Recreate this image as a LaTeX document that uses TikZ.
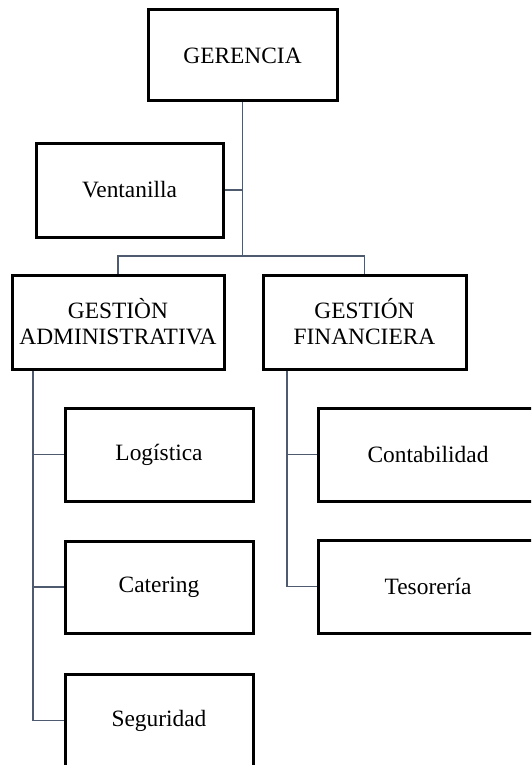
\documentclass[tikz,border=0pt]{standalone}
\usepackage{fontspec}
\setmainfont{Liberation Serif}
\definecolor{conn}{RGB}{78,90,110}
\begin{document}
\begin{tikzpicture}[x=1pt,y=1pt,
  box/.style={draw=black, line width=3pt, fill=white, rectangle, inner sep=0pt,
    align=center, font=\fontsize{23.4}{26}\selectfont},
  link/.style={draw=conn, line width=1.6pt}]
\useasboundingbox (0,0) rectangle (531,-765);
\clip (0,0) rectangle (531,-765);
\node[box, minimum width=189, minimum height=91] (ger) at (242.5,-55.5) {GERENCIA};
\node[box, minimum width=187, minimum height=94] (ven) at (129.5,-190) {Ventanilla};
\node[box, minimum width=212, minimum height=94] (ga) at (118,-322) {GESTIÒN\\ADMINISTRATIVA};
\node[box, minimum width=203, minimum height=94] (gf) at (364.5,-322) {GESTIÓN\\FINANCIERA};
\node[box, minimum width=188, minimum height=93] (log) at (159,-454.5) {Logística};
\node[box, minimum width=188, minimum height=92] (cat) at (159,-587) {Catering};
\node[box, minimum width=188, minimum height=93] (seg) at (159,-720.5) {Seguridad};
\node[box, minimum width=220, minimum height=93] (con) at (428,-454.5) {Contabilidad};
\node[box, minimum width=220, minimum height=93] (tes) at (428,-586.5) {Tesorería};
\coordinate (bus) at (0,-256);
\coordinate (lx) at (33,0);
\coordinate (rx) at (287,0);
\draw[link] (ger.south) -- (ger.south |- bus);
\draw[link] (ven.east) -- (ven.east -| ger.south);
\draw[link] (ga.north) -- (ga.north |- bus) -- (gf.north |- bus) -- (gf.north);
\draw[link] (ga.south -| lx) -- (lx |- seg.west) -- (seg.west);
\draw[link] (lx |- log.west) -- (log.west);
\draw[link] (lx |- cat.west) -- (cat.west);
\draw[link] (gf.south -| rx) -- (rx |- tes.west) -- (tes.west);
\draw[link] (rx |- con.west) -- (con.west);
\end{tikzpicture}
\end{document}
